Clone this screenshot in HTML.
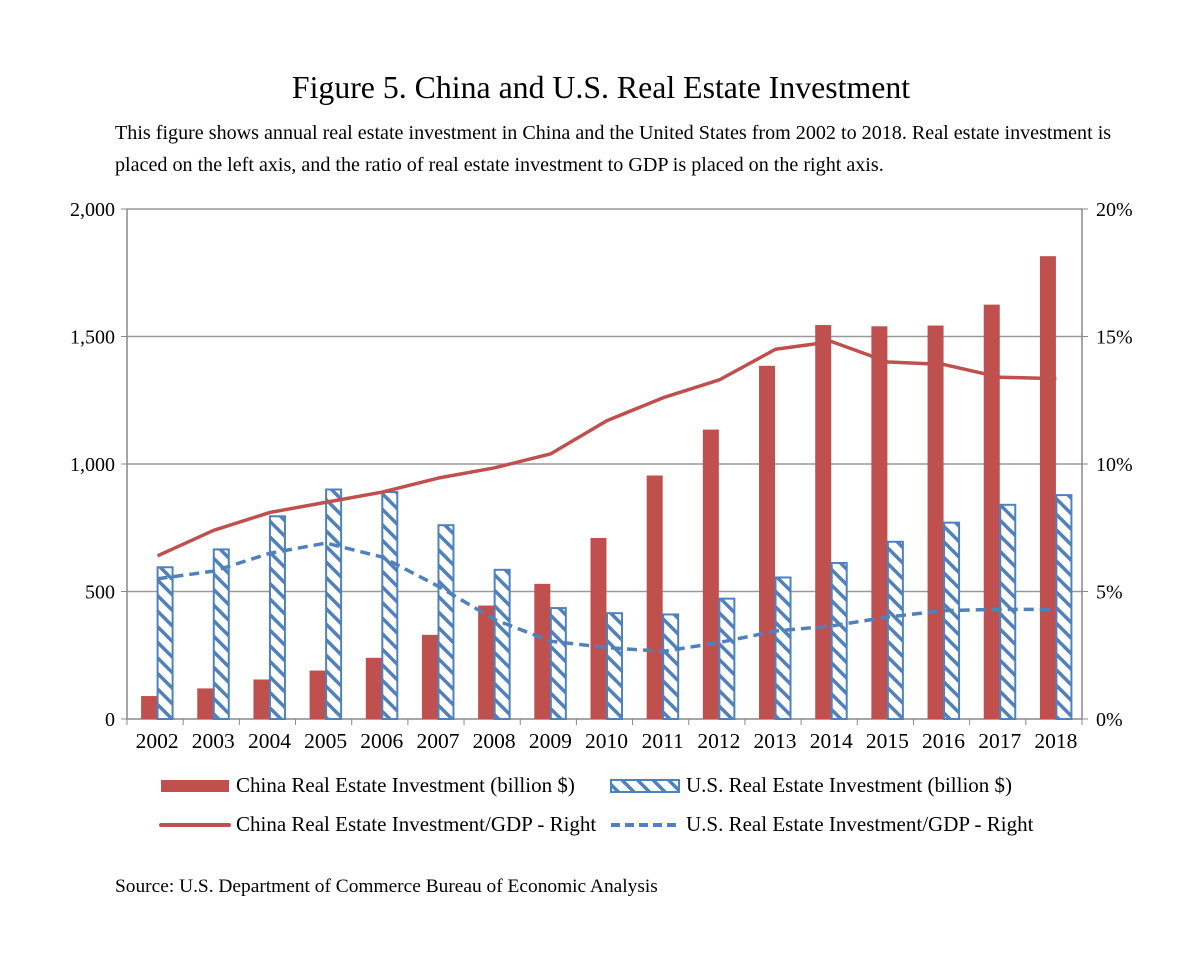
<!DOCTYPE html>
<html><head><meta charset="utf-8"><style>
body{margin:0;background:#fff;width:1202px;height:966px;overflow:hidden;font-family:"Liberation Serif",serif;}
</style></head><body>
<svg width="1202" height="966" id="svg" font-family="Liberation Serif, serif">
<defs>
<pattern id="hatch" patternUnits="userSpaceOnUse" width="11" height="11" patternTransform="rotate(45)">
<rect width="11" height="11" fill="#fff"/><rect y="0" width="11" height="3.5" fill="#4f81bd"/>
</pattern>
</defs>
<text x="601" y="98" text-anchor="middle" font-size="31.8">Figure 5. China and U.S. Real Estate Investment</text>
<text x="115" y="139" font-size="20.1">This figure shows annual real estate investment in China and the United States from 2002 to 2018. Real estate investment is</text>
<text x="115" y="171" font-size="20.1">placed on the left axis, and the ratio of real estate investment to GDP is placed on the right axis.</text>
<g id="grid"></g><g id="bars"></g><g id="lines"></g><g id="axes"></g>
<g font-size="21">
<rect x="161" y="780" width="68" height="12" fill="#c0504d"/>
<text x="236" y="792">China Real Estate Investment (billion $)</text>
<rect x="611" y="780" width="68" height="12" fill="url(#hatch)" stroke="#4f81bd" stroke-width="2"/>
<text x="686" y="792">U.S. Real Estate Investment (billion $)</text>
<line x1="161" y1="825" x2="229" y2="825" stroke="#c0504d" stroke-width="4" stroke-linecap="round"/>
<text x="236" y="831">China Real Estate Investment/GDP - Right</text>
<line x1="611" y1="825" x2="679" y2="825" stroke="#4f81bd" stroke-width="4" stroke-dasharray="9,5"/>
<text x="686" y="831">U.S. Real Estate Investment/GDP - Right</text>
</g>
<text x="115" y="892" font-size="19.4">Source: U.S. Department of Commerce Bureau of Economic Analysis</text>
</svg>
<script>
const years=["2002","2003","2004","2005","2006","2007","2008","2009","2010","2011","2012","2013","2014","2015","2016","2017","2018"];
const chinaInv=[90,120,155,190,240,330,445,530,710,955,1135,1385,1545,1540,1543,1625,1815];
const usInv=[595,665,795,900,890,760,585,435,415,410,472,555,612,695,770,840,878];
const chinaRatio=[6.4,7.4,8.1,8.5,8.9,9.45,9.85,10.4,11.7,12.6,13.3,14.5,14.8,14.0,13.9,13.4,13.35];
const usRatio=[5.5,5.8,6.5,6.9,6.35,5.2,3.9,3.05,2.8,2.65,3.0,3.45,3.65,4.0,4.25,4.3,4.3];
const leftTicks=[0,500,1000,1500,2000];
const leftLabels=["0","500","1,000","1,500","2,000"];
const rightTicks=[0,5,10,15,20];
const rightLabels=["0%","5%","10%","15%","20%"];
const NS="http://www.w3.org/2000/svg";
const L=127,R=1082,T=209,B=719;
const step=(R-L)/years.length;
const xc=i=>L+step*(i+0.5);
const yl=v=>B-(v/2000)*(B-T);
const yr=v=>B-(v/20)*(B-T);
function mk(tag,attrs,parent){const e=document.createElementNS(NS,tag);for(const k in attrs)e.setAttribute(k,attrs[k]);document.getElementById(parent).appendChild(e);return e;}
leftTicks.forEach((t,i)=>{
 const g=mk('line',{x1:L,x2:R,y1:yl(t),y2:yl(t),stroke:i==0?'#888':'#999','stroke-width':1.5},'grid');
 
 
 const lt=mk('text',{x:L-12,y:yl(t)+7,'text-anchor':'end','font-size':20},'axes');lt.textContent=leftLabels[i];
 
 
 mk('line',{x1:L-6,x2:L,y1:yl(t),y2:yl(t),stroke:'#888'},'axes');
});
rightTicks.forEach((t,i)=>{
 const rt=mk('text',{x:R+14,y:yr(t)+7,'font-size':20},'axes');rt.textContent=rightLabels[i];
 
 
 mk('line',{x1:R,x2:R+6,y1:yr(t),y2:yr(t),stroke:'#888'},'axes');
});
mk('line',{x1:L,x2:L,y1:T,y2:B,stroke:'#888','stroke-width':1.5},'axes');
mk('line',{x1:R,x2:R,y1:T,y2:B,stroke:'#888','stroke-width':1.5},'axes');
for(let i=0;i<=years.length;i++)mk('line',{x1:L+step*i,x2:L+step*i,y1:B,y2:B+6,stroke:'#888'},'axes');
years.forEach((y,i)=>{
 const xt=mk('text',{x:xc(i)+2,y:748,'text-anchor':'middle','font-size':21.5},'axes');xt.textContent=y;
 
 
 const c=mk('rect',{x:xc(i)-14,y:yl(chinaInv[i]),width:16,height:B-yl(chinaInv[i]),fill:'#c0504d'},'bars');
 
 
 const u=mk('rect',{x:xc(i)+2.5,y:yl(usInv[i]),width:15,height:B-yl(usInv[i]),fill:'url(#hatch)',stroke:'#4f81bd','stroke-width':2},'bars');
 
 
});
const cl=mk('polyline',{points:chinaRatio.map((v,i)=>(xc(i)+2.5)+','+yr(v)).join(' '),fill:'none',stroke:'#c0504d','stroke-width':3.5,'stroke-linejoin':'round'},'lines');


const ul=mk('polyline',{points:usRatio.map((v,i)=>(xc(i)+2.5)+','+yr(v)).join(' '),fill:'none',stroke:'#4f81bd','stroke-width':3.5,'stroke-dasharray':'10,6'},'lines');


</script>
</body></html>
